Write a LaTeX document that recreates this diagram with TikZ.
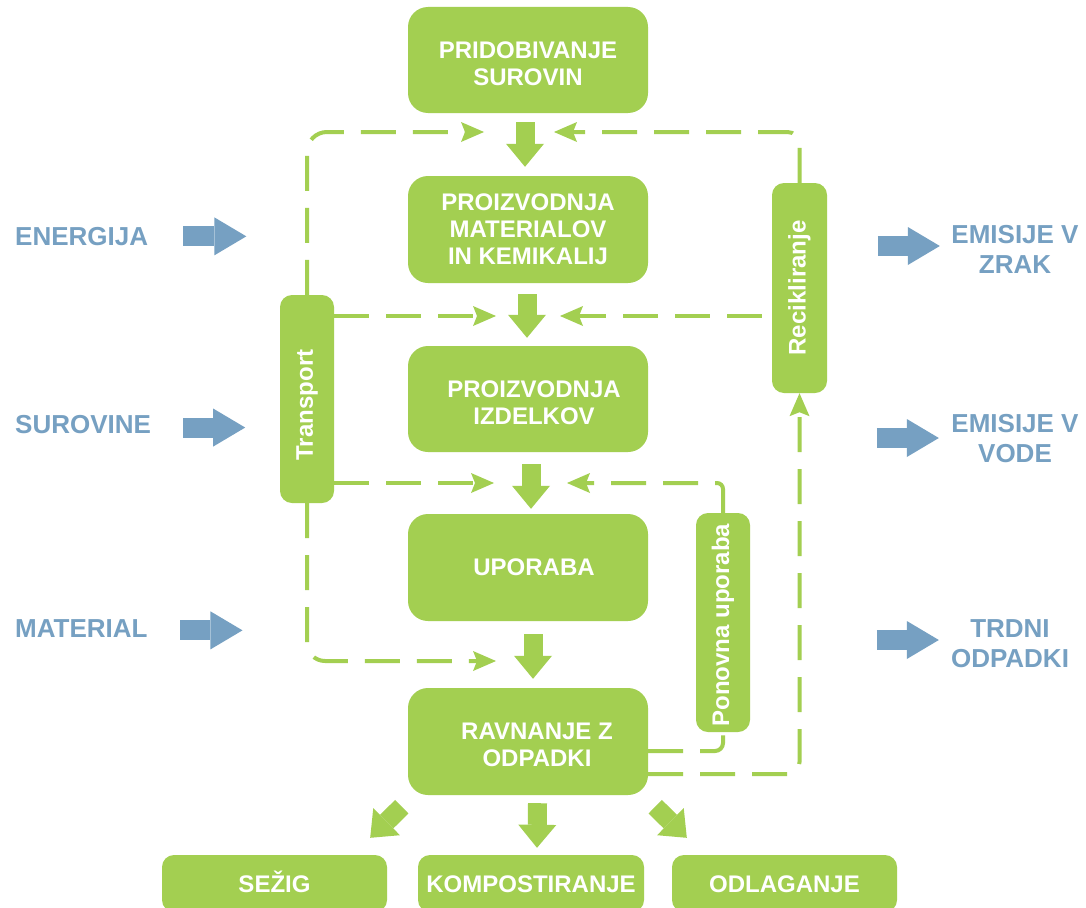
\documentclass[tikz,border=0pt]{standalone}
\usepackage{fontspec}
\setmainfont{Liberation Sans}
\usepackage{graphicx}
\usetikzlibrary{arrows.meta,calc}
\definecolor{grn}{RGB}{163,207,81}
\definecolor{blu}{RGB}{118,160,194}
\newcommand{\dn}{\rule{0pt}{24pt}}
\tikzset{
  box/.style={fill=grn, rounded corners=20pt, text=white, font=\bfseries\fontsize{24}{27}\selectfont, align=center, inner sep=0pt, minimum width=240pt},
  sbox/.style={fill=grn, rounded corners=12pt, text=white, font=\bfseries\fontsize{24}{27}\selectfont, inner sep=0pt, minimum height=57pt, text height=17.2pt, text depth=0pt},
  vbox/.style={fill=grn, rounded corners=12pt, text=white, font=\bfseries\fontsize{24}{27}\selectfont, inner sep=0pt, minimum width=54pt},
  lab/.style={text=blu, font=\bfseries\fontsize{26}{30}\selectfont, inner sep=0pt},
  blk/.style={draw=grn, line width=19pt, -{Triangle[length=23pt,width=38pt,line width=0pt]}},
  barrow/.style={draw=blu, line width=20pt, -{Triangle[length=32pt,width=38pt,line width=0pt]}},
  dl/.style={draw=grn, line width=4pt, dash pattern=on 35pt off 17pt, -{Stealth[length=23pt,width=20pt,inset=4pt,line width=0pt]}},
  dln/.style={draw=grn, line width=4pt, dash pattern=on 35pt off 17pt},
}
\begin{document}
\begin{tikzpicture}[x=1pt,y=-1pt]
\useasboundingbox (0,0) rectangle (1086,907);
\clip (0,0) rectangle (1086,907);
\fill[white] (0,0) rectangle (1086,907);

% main process boxes
\node[box, minimum height=106pt] (b1) at (528,60) {\dn PRIDOBIVANJE\\SUROVIN};
\node[box, minimum height=107pt] (b2) at (528,229.5) {PROIZVODNJA\\MATERIALOV\\IN KEMIKALIJ};
\node[box, minimum height=106pt] (b3) at (528,399) {\dn\hspace*{12pt}PROIZVODNJA\\\hspace*{12pt}IZDELKOV};
\node[box, minimum height=107pt] (b4) at (528,567.5) {\hspace*{12pt}UPORABA};
\node[box, minimum height=107pt] (b5) at (528,741.5) {\dn\hspace*{18pt}RAVNANJE Z\\\hspace*{18pt}ODPADKI};

% bottom boxes
\node[sbox, minimum width=225pt] (sez) at (274.5,883.5) {SEŽIG};
\node[sbox, minimum width=226pt] (komp) at (531,883.5) {KOMPOSTIRANJE};
\node[sbox, minimum width=225pt] (odl) at (784.5,883.5) {ODLAGANJE};

% vertical side boxes
\node[vbox, minimum height=208pt] (tr) at (307,399) {\rotatebox{90}{Transport\hspace*{12pt}}};
\node[vbox, minimum width=55pt, minimum height=210pt] (rec) at (799.5,288) {\rotatebox{90}{Recikliranje}};
\node[vbox, minimum height=219pt] (pon) at (723,622.5) {\rotatebox{90}{Ponovna uporaba\hspace*{5pt}}};

% block arrows between process boxes
\draw[blk] ($(b1.south)+(-3,9)$) -- ($(b2.north)+(-3,-9)$);
\draw[blk] ($(b2.south)+(-1,11)$) -- ($(b3.north)+(-1,-8)$);
\draw[blk] ($(b3.south)+(3,12)$) -- ($(b4.north)+(3,-5)$);
\draw[blk] ($(b4.south)+(5,13)$) -- ($(b5.north)+(5,-9)$);
\draw[blk] ($(b5.south)+(9.5,8)$) -- ($(komp.north)+(6,-7)$);
\draw[blk] ($(b5.south west)+(-6,11.5)$) -- ($(sez.north east)+(-17,-17)$);
\draw[blk] ($(b5.south east)+(7,11.5)$) -- ($(odl.north west)+(15,-17)$);

% dashed flows
\coordinate (t1l) at (484,132);
\coordinate (t1r) at (554,132);
\coordinate (t2l) at (496,316);
\coordinate (t2r) at (560,316);
\coordinate (t3l) at (494,483);
\coordinate (t3r) at (567,483);
\coordinate (t4l) at (496,661);

\draw[dl, rounded corners=20pt] (tr.north) |- (t1l);
\draw[dl, rounded corners=12pt] (rec.north) |- (t1r);
\draw[dl] ($(tr.east)+(0,-83)$) -- (t2l);
\draw[dl] ($(rec.west)+(-10,28)$) -- (t2r);
\draw[dl] ($(tr.east)+(0,84)$) -- (t3l);
\draw[dl, rounded corners=6pt] (pon.north) |- (t3r);
\draw[dl, rounded corners=18pt] (tr.south) |- (t4l);
\draw[dln, rounded corners=8pt] ($(b5.east)+(0,9.5)$) -| (pon.south);
\draw[dl, rounded corners=12pt] ($(b5.east)+(0,32.5)$) -| (rec.south);

% inputs (left)
\node[lab, anchor=base west] (energ) at (15,245) {ENERGIJA};
\node[lab, anchor=base west] (surov) at (15,433) {SUROVINE};
\node[lab, anchor=base west] (mater) at (15,637) {MATERIAL};
\draw[barrow] ($(energ.east)+(35,0.3)$) -- ++(63,0);
\draw[barrow] ($(surov.east)+(32,3.5)$) -- ++(62,0);
\draw[barrow] ($(mater.east)+(32.7,2.3)$) -- ++(62,0);

% outputs (right)
\node[lab, align=center] (ezrak) at (1015,249) {EMISIJE V\\ZRAK};
\node[lab, align=center] (evode) at (1015,439) {EMISIJE V\\VODE};
\node[lab, align=center] (trdni) at (1010,644) {TRDNI\\ODPADKI};
\draw[barrow] ($(ezrak.west)+(-73.4,-3)$) -- ++(62,0);
\draw[barrow] ($(evode.west)+(-74.4,-1)$) -- ++(62,0);
\draw[barrow] ($(trdni.west)+(-74,-4)$) -- ++(62,0);
\end{tikzpicture}
\end{document}
